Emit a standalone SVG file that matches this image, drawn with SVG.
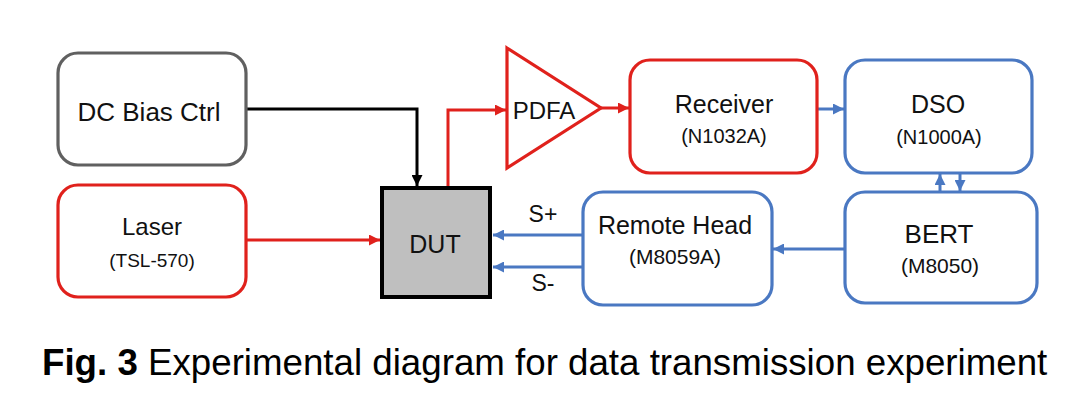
<svg xmlns="http://www.w3.org/2000/svg" width="1080" height="419" viewBox="0 0 1080 419">
  <defs>
    <style>
      .box { fill: #ffffff; stroke-width: 3.2; }
      .red { stroke: #e0211c; }
      .blue { stroke: #4a78c2; }
      .gray { stroke: #606060; }
      .t { font-family: "Liberation Sans", Arial, sans-serif; fill: #111111; text-anchor: middle; }
      .big { font-size: 25px; }
      .small { font-size: 20px; }
      .conn { fill: none; stroke-width: 3; }
    </style>
    <marker id="aRed" viewBox="0 0 10 10" refX="10" refY="5" markerWidth="11" markerHeight="11" markerUnits="userSpaceOnUse" orient="auto">
      <path d="M0,0 L10,5 L0,10 z" fill="#e0211c"/>
    </marker>
    <marker id="aBlue" viewBox="0 0 10 10" refX="10" refY="5" markerWidth="11" markerHeight="11" markerUnits="userSpaceOnUse" orient="auto">
      <path d="M0,0 L10,5 L0,10 z" fill="#4a78c2"/>
    </marker>
    <marker id="aBlack" viewBox="0 0 10 10" refX="10" refY="5" markerWidth="11" markerHeight="11" markerUnits="userSpaceOnUse" orient="auto">
      <path d="M0,0 L10,5 L0,10 z" fill="#000000"/>
    </marker>
  </defs>
  <rect width="1080" height="419" fill="#ffffff"/>

  <g id="connectors">
    <path class="conn" stroke="#000000" d="M246,109 H417 V186" marker-end="url(#aBlack)"/>
    <path class="conn red" d="M246,240 H380" marker-end="url(#aRed)"/>
    <path class="conn red" d="M448,187 V110 H506" marker-end="url(#aRed)"/>
    <path class="conn red" d="M601,108 H629" marker-end="url(#aRed)"/>
    <path class="conn blue" d="M817,109 H844" marker-end="url(#aBlue)"/>
    <path class="conn blue" d="M940,191 V174" marker-end="url(#aBlue)"/>
    <path class="conn blue" d="M960,174 V191" marker-end="url(#aBlue)"/>
    <path class="conn blue" d="M845,249 H773" marker-end="url(#aBlue)"/>
    <path class="conn blue" d="M582,235 H493" marker-end="url(#aBlue)"/>
    <path class="conn blue" d="M582,267 H493" marker-end="url(#aBlue)"/>
  </g>

  <g id="dcbias">
    <rect class="box gray" x="58" y="53" width="188" height="112" rx="20"/>
    <text class="t" x="149" y="121" font-size="26">DC Bias Ctrl</text>
  </g>

  <g id="laser">
    <rect class="box red" x="58" y="185" width="188" height="112" rx="20"/>
    <text class="t" x="152" y="235" font-size="24">Laser</text>
    <text class="t" x="152" y="267" font-size="19">(TSL-570)</text>
  </g>

  <g id="dut">
    <rect x="382" y="188" width="108" height="109" fill="#bfbfbf" stroke="#000000" stroke-width="4"/>
    <text class="t" x="435" y="253" font-size="25">DUT</text>
  </g>

  <g id="pdfa">
    <path d="M507,48 L601,108 L507,168 Z" fill="#ffffff" stroke="#e0211c" stroke-width="3.2" stroke-linejoin="miter"/>
    <text class="t" x="544" y="119" font-size="24">PDFA</text>
  </g>

  <g id="receiver">
    <rect class="box red" x="630" y="60" width="187" height="113" rx="20"/>
    <text class="t big" x="724" y="113">Receiver</text>
    <text class="t small" x="724" y="143">(N1032A)</text>
  </g>

  <g id="dso">
    <rect class="box blue" x="845" y="60" width="187" height="113" rx="20"/>
    <text class="t big" x="938" y="113">DSO</text>
    <text class="t small" x="939" y="144">(N1000A)</text>
  </g>

  <g id="bert">
    <rect class="box blue" x="845" y="192" width="192" height="111" rx="20"/>
    <text class="t" x="939" y="243" font-size="26">BERT</text>
    <text class="t" x="940" y="273" font-size="21">(M8050)</text>
  </g>

  <g id="remotehead">
    <rect class="box blue" x="583" y="192" width="189" height="113" rx="20"/>
    <text class="t big" x="675" y="234">Remote Head</text>
    <text class="t" x="675" y="264" font-size="21">(M8059A)</text>
  </g>

  <g id="labels">
    <text class="t" x="543" y="222" font-size="23">S+</text>
    <text class="t" x="543" y="291" font-size="23">S-</text>
  </g>

  <g id="caption">
    <text x="42" y="375" font-family="Liberation Sans, Arial, sans-serif" font-size="36.7" fill="#000000"><tspan font-weight="bold">Fig. 3</tspan> Experimental diagram for data transmission experiment</text>
  </g>
</svg>
